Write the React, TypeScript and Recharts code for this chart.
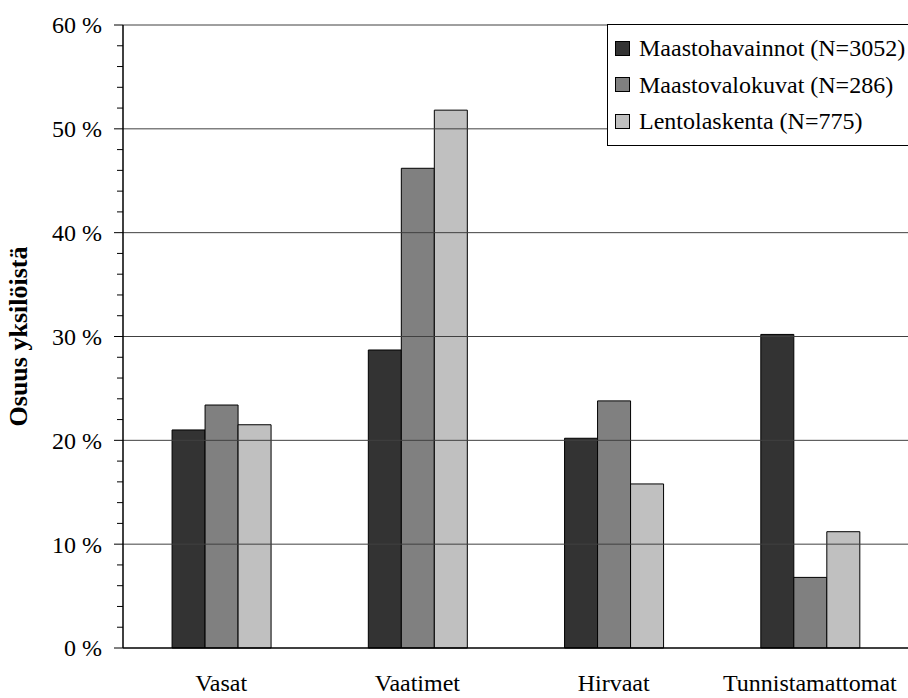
import { Bar, BarChart, ReferenceLine, XAxis, YAxis } from 'recharts';

const categories = ['Vasat', 'Vaatimet', 'Hirvaat', 'Tunnistamattomat'];
const maastohavainnot = [21.0, 28.7, 20.2, 30.2];
const maastovalokuvat = [23.4, 46.2, 23.8, 6.8];
const lentolaskenta = [21.5, 51.8, 15.8, 11.2];

const seriesNames = [
  'Maastohavainnot (N=3052)',
  'Maastovalokuvat (N=286)',
  'Lentolaskenta (N=775)',
];
const seriesColors = ['#333333', '#808080', '#c0c0c0'];

// minor tick every 2 %, labelled/gridded every 10 %
const yTicks = [0, 2, 4, 6, 8, 10, 12, 14, 16, 18, 20, 22, 24, 26, 28, 30, 32, 34, 36, 38, 40, 42, 44, 46, 48, 50, 52, 54, 56, 58, 60];
const gridValues = [10, 20, 30, 40, 50, 60];

const FONT = '"Liberation Serif", "Times New Roman", serif';

const data = categories.map((name, i) => ({
  name,
  [seriesNames[0]]: maastohavainnot[i],
  [seriesNames[1]]: maastovalokuvat[i],
  [seriesNames[2]]: lentolaskenta[i],
}));

function YTick({ x, y, payload }: any) {
  const major = payload.value % 10 === 0;
  return (
    <g>
      <line x1={x - (major ? 9 : 6)} x2={x} y1={y} y2={y} stroke="#000" strokeWidth={1} />
      {major && (
        <text x={x - 21} y={y} dy="0.35em" textAnchor="end" fontSize={24} fontFamily={FONT} fill="#000">
          {`${payload.value} %`}
        </text>
      )}
    </g>
  );
}

function XTick({ x, y, payload }: any) {
  return (
    <text x={x} y={y + 35} textAnchor="middle" fontSize={24} fontFamily={FONT} fill="#000">
      {payload.value}
    </text>
  );
}

// legend box sits over the top right corner of the plot, clipped by the page edge
function LegendBox() {
  return (
    <div
      style={{
        position: 'absolute',
        left: 607,
        top: 24,
        width: 330,
        border: '1px solid #000',
        background: '#fff',
        padding: '5px 0 5px 7px',
        fontFamily: FONT,
        fontSize: 24,
        lineHeight: '36.5px',
        boxSizing: 'border-box',
      }}
    >
      {seriesNames.map((name, i) => (
        <div key={name} style={{ display: 'flex', alignItems: 'center', whiteSpace: 'nowrap' }}>
          <span
            style={{
              display: 'inline-block',
              width: 13,
              height: 13,
              background: seriesColors[i],
              border: '1px solid #000',
              marginRight: 9,
              flex: 'none',
            }}
          />
          {name}
        </div>
      ))}
    </div>
  );
}

export default function App() {
  return (
    <div style={{ position: 'absolute', left: 0, top: 0, width: 908, height: 698, overflow: 'hidden', background: '#fff' }}>
      <BarChart
        width={908}
        height={698}
        data={data}
        margin={{ top: 25, right: 0, bottom: 0, left: 0 }}
        barCategoryGap="25%"
        barGap={0}
      >
        {gridValues.map((v) => (
          <ReferenceLine key={v} y={v} stroke="#404040" strokeWidth={1} />
        ))}
        <XAxis
          dataKey="name"
          height={50}
          tickLine={false}
          axisLine={{ stroke: '#000', strokeWidth: 1.5 }}
          tick={<XTick />}
          interval={0}
        />
        <YAxis
          width={123}
          domain={[0, 60]}
          ticks={yTicks}
          interval={0}
          tickLine={false}
          tickSize={0}
          tickMargin={0}
          axisLine={{ stroke: '#000', strokeWidth: 1.5 }}
          tick={<YTick />}
          label={{
            value: 'Osuus yksilöistä',
            angle: -90,
            position: 'insideLeft',
            offset: 18,
            style: { fontFamily: FONT, fontSize: 26, fontWeight: 'bold', fill: '#000', textAnchor: 'middle' },
          }}
        />
        {seriesNames.map((s, i) => (
          <Bar key={s} dataKey={s} fill={seriesColors[i]} stroke="#000" strokeWidth={1} isAnimationActive={false} />
        ))}
      </BarChart>
      <LegendBox />
    </div>
  );
}
